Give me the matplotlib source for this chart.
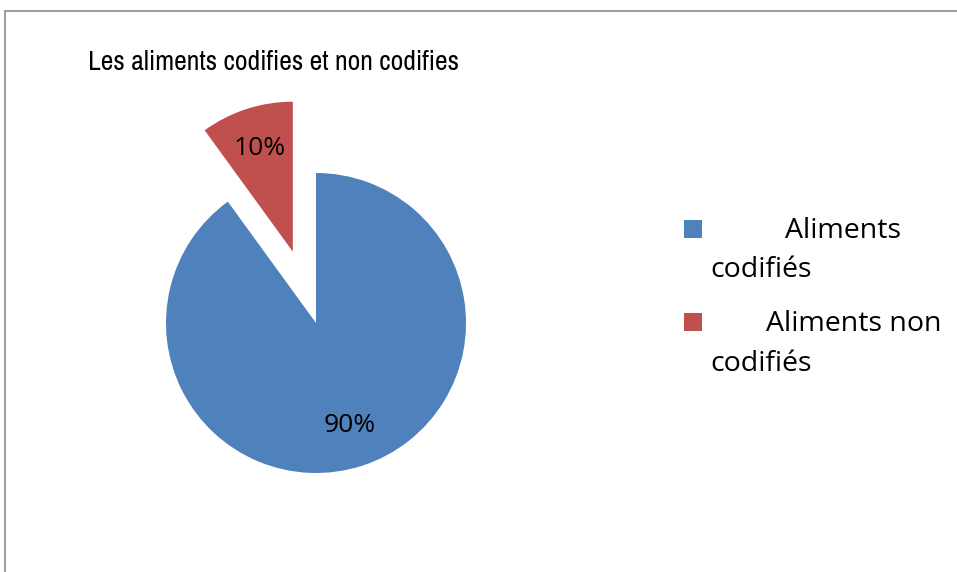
import matplotlib.pyplot as plt
from matplotlib.patches import Rectangle
from matplotlib import font_manager

title = "Les aliments codifies et non codifies"
labels = ["Aliments codifiés", "Aliments non codifiés"]
values = [90, 10]
colors = ["#4F81BD", "#C0504D"]
explode = [0, 0.5]

# look for a narrow/condensed face for the title
narrow = None
for f in font_manager.fontManager.ttflist:
    if ("Narrow" in f.name or "Condensed" in f.name) and f.style == "normal":
        narrow = f.name
        break

W, H = 957, 572
fig = plt.figure(figsize=(W / 100, H / 100), dpi=100)

# outer chart border (cropped on right/bottom)
fig.patches.append(Rectangle((5 / W, -0.1), 1.2, (H - 11) / H + 0.1,
                             transform=fig.transFigure, fill=False,
                             edgecolor="#8c8c8c", linewidth=1.2))

cx, cy, r = 316, 323, 150
half = 200
ax = fig.add_axes([(cx - half) / W, (H - cy - half) / H, 2 * half / W, 2 * half / H])
wedges, _, autotexts = ax.pie(values, colors=colors, explode=explode, startangle=90,
                              counterclock=False, autopct="%1.0f%%", pctdistance=0.72,
                              textprops=dict(fontsize=19, family="Open Sans", color="black"))
ax.set_xlim(-half / r, half / r)
ax.set_ylim(-half / r, half / r)
ax.set_aspect("equal")
ax.axis("off")

if narrow:
    fig.text(88 / W, 1 - 70 / H, title, fontsize=20, family=narrow,
             ha="left", va="baseline")
else:
    fig.text(88 / W, 1 - 70 / H, title, fontsize=18, family="Liberation Sans",
             ha="left", va="baseline")

# legend drawn by hand to keep the odd line wrapping
legend_rows = [
    (220, [("Aliments", 785, 238), ("codifiés", 710, 277)]),
    (313, [("Aliments non", 766, 331), ("codifiés", 710, 371)]),
]
for (ytop, lines), col in zip(legend_rows, colors):
    fig.patches.append(Rectangle((684 / W, 1 - (ytop + 18) / H), 18 / W, 18 / H,
                                 transform=fig.transFigure, facecolor=col, edgecolor="none"))
    for txt, x, yb in lines:
        fig.text(x / W, 1 - yb / H, txt, fontsize=20.5, family="Open Sans",
                 ha="left", va="baseline")

plt.savefig("out.png", dpi=100)
